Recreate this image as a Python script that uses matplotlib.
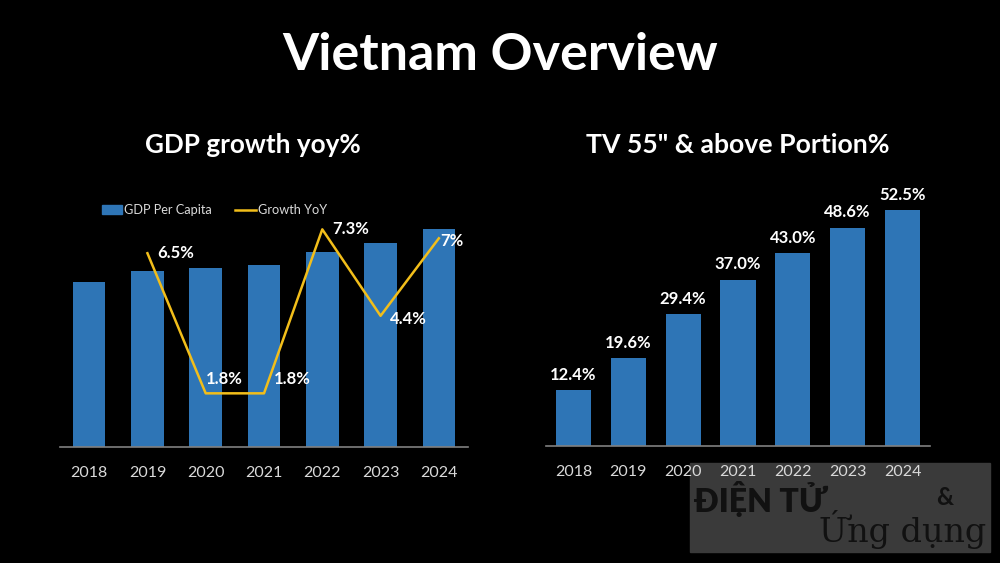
import matplotlib.pyplot as plt
from matplotlib.patches import Rectangle
from matplotlib.lines import Line2D
from matplotlib.patches import Patch

plt.rcParams['font.family'] = ['Lato', 'DejaVu Sans']

years = ['2018', '2019', '2020', '2021', '2022', '2023', '2024']
# GDP per capita bars (USD, estimated)
gdp_per_capita = [3560, 3790, 3860, 3920, 4200, 4400, 4700]
# growth yoy %, starting 2019
growth_years = ['2019', '2020', '2021', '2022', '2023', '2024']
growth_yoy = [6.5, 1.8, 1.8, 7.3, 4.4, 7.0]
growth_labels = ['6.5%', '1.8%', '1.8%', '7.3%', '4.4%', '7%']
# TV 55" & above portion %
tv_portion = [12.4, 19.6, 29.4, 37.0, 43.0, 48.6, 52.5]

BLUE = '#2E75B6'
GOLD = '#F2BE1A'
AXIS = '#808080'
TICK = '#d9d9d9'

W, H = 1000, 563
fig = plt.figure(figsize=(10, 5.63), dpi=100, facecolor='black')

def px_axes(l, t, r, b):
    return fig.add_axes([l / W, 1 - b / H, (r - l) / W, (b - t) / H])

def style(ax):
    ax.set_facecolor('black')
    for s in ['top', 'right', 'left']:
        ax.spines[s].set_visible(False)
    ax.spines['bottom'].set_color(AXIS)
    ax.spines['bottom'].set_linewidth(1.2)
    ax.tick_params(axis='x', length=0, colors=TICK, labelsize=11.5, pad=14)
    ax.set_yticks([])

# watermark box (behind the chart)
fig.patches.append(Rectangle((690 / W, 1 - 552 / H), 300 / W, 89 / H,
                             transform=fig.transFigure, color='#3a3a3a', zorder=0))
fig.text(694 / W, 1 - 512 / H, 'ĐIỆN TỬ', color='#111111', fontsize=23,
         fontweight='heavy', ha='left', va='baseline', zorder=1)
fig.text(936 / W, 1 - 505 / H, '&', color='#111111', fontsize=17, fontweight='bold',
         ha='left', va='baseline', zorder=1)
fig.text(986 / W, 1 - 542 / H, 'Ứng dụng', color='#111111', fontsize=24,
         family=['DejaVu Serif'], ha='right', va='baseline', zorder=1)

fig.text(0.5, 1 - 55 / H, 'Vietnam Overview', color='white', fontsize=37.5,
         fontweight='bold', ha='center', va='center')
fig.text(253 / W, 1 - 145 / H, 'GDP growth yoy%', color='white', fontsize=18.8,
         fontweight='bold', ha='center', va='center')
fig.text(738 / W, 1 - 145 / H, 'TV 55" & above Portion%', color='white', fontsize=19.2,
         fontweight='bold', ha='center', va='center')

# left chart
ax1 = px_axes(60, 190, 468, 447)
x = list(range(len(years)))
ax1.bar(x, gdp_per_capita, width=0.56, color=BLUE, zorder=2)
ax1.set_xlim(-0.5, 6.5)
ax1.set_ylim(0, 5540)
ax1.set_xticks(x)
ax1.set_xticklabels(years)
style(ax1)

ax2 = ax1.twinx()
gx = [years.index(y) for y in growth_years]
ax2.plot(gx, growth_yoy, color=GOLD, linewidth=1.8, zorder=3)
ax2.set_ylim(0, 8.62)
ax2.axis('off')
offsets = [(7, 0, 'left', 'center'), (0, 10, 'left', 'center'), (7, 10, 'left', 'center'),
           (7, 0, 'left', 'center'), (7, -2, 'left', 'center'), (1, -2, 'left', 'center')]
for xi, v, lab, (dx, dy, ha, va) in zip(gx, growth_yoy, growth_labels, offsets):
    ax2.annotate(lab, (xi, v), xytext=(dx, dy), textcoords='offset points',
                 color='white', fontsize=12, fontweight='bold', ha=ha, va=va,
                 annotation_clip=False)

handles = [Patch(color=BLUE, label='GDP Per Capita'),
           Line2D([0], [0], color=GOLD, lw=1.8, label='Growth YoY')]
fig.legend(handles=handles, loc='center left', bbox_to_anchor=(90 / W, 1 - 210 / H),
           ncol=2, frameon=False, fontsize=9.2, labelcolor=TICK,
           handlelength=1.6, handleheight=0.7, handletextpad=0.2, columnspacing=1.8)

# right chart
ax3 = px_axes(546, 180, 930, 446)
ax3.set_zorder(3)
ax3.bar(x, tv_portion, width=0.64, color=BLUE, zorder=2)
ax3.set_xlim(-0.5, 6.5)
ax3.set_ylim(0, 59.2)
ax3.set_xticks(x)
ax3.set_xticklabels(years)
style(ax3)
for xi, v in zip(x, tv_portion):
    ax3.annotate(f'{v:.1f}%', (xi, v), xytext=(0, 11), textcoords='offset points',
                 color='white', fontsize=12, fontweight='bold', ha='center', va='center',
                 annotation_clip=False)

fig.savefig('out.png', dpi=100, facecolor='black')
